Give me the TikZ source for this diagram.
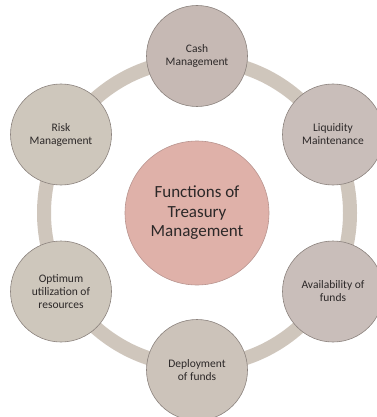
\documentclass[tikz,border=0pt]{standalone}
\usepackage{fontspec}
\setmainfont{Carlito}
\definecolor{ringcol}{HTML}{CFC6BC}
\definecolor{itemedge}{HTML}{8C837E}
\definecolor{coreedge}{HTML}{B99590}
\definecolor{corefill}{HTML}{DFB1A9}
\definecolor{txt}{HTML}{2C2828}
\definecolor{mauveA}{HTML}{C6B9B4}
\definecolor{mauveB}{HTML}{C9BEBA}
\definecolor{beigeA}{HTML}{CCC3BA}
\definecolor{beigeB}{HTML}{CEC7BC}
\begin{document}
\begin{tikzpicture}[x=1pt,y=-1pt,
  item/.style={circle, draw=itemedge, line width=0.6pt, minimum size=101pt,
    inner sep=0pt, align=center, text=txt, font=\fontsize{11.5}{13}\selectfont},
  core/.style={circle, draw=coreedge, line width=0.6pt, fill=corefill,
    minimum size=144pt, inner sep=0pt, align=center, text=txt,
    font=\fontsize{17}{19.5}\selectfont}]
\useasboundingbox (0,0) rectangle (376,417);
\fill[white] (0,0) rectangle (376,417);
% ring joining the six functions
\coordinate (hub) at (197,213);
\draw[ringcol, line width=14pt] (hub) circle (153pt);
% central topic
\node[core] (core) at (hub) {Functions of\\Treasury\\Management};
% the six functions around it
\node[item, fill=mauveA] (cash)   at (197,56)    {Cash\\Management};
\node[item, fill=mauveB] (liq)    at (333,134.5) {Liquidity\\Maintenance};
\node[item, fill=mauveB] (avail)  at (333,291.5) {Availability of\\funds};
\node[item, fill=beigeA] (deploy) at (197,370)   {Deployment\\of funds};
\node[item, fill=beigeB] (optim)  at (61,291.5)  {Optimum\\utilization of\\resources};
\node[item, fill=beigeB] (risk)   at (61,134.5)  {Risk\\Management};
\end{tikzpicture}
\end{document}
